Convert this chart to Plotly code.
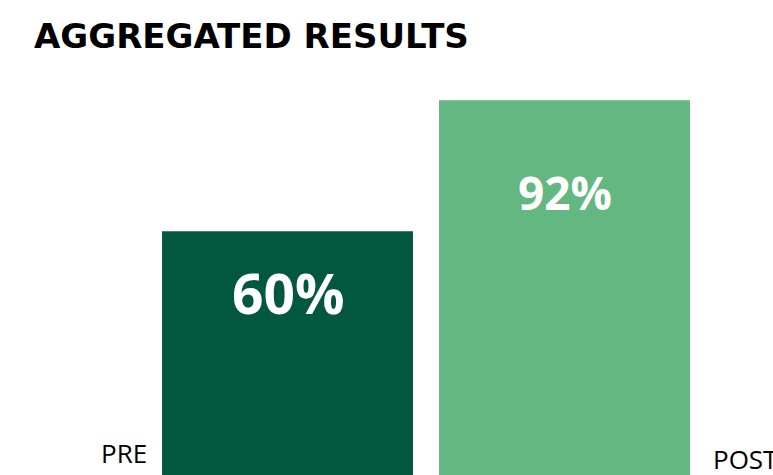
import plotly.graph_objects as go

categories = ["PRE", "POST"]
values = [60, 92]
value_labels = ["60%", "92%"]
bar_colors = ["#02583F", "#63B780"]
label_sizes = [55, 46]
label_offsets = [-61, -92]

fig = go.Figure()
fig.add_trace(go.Bar(
    x=categories, y=values, marker=dict(color=bar_colors, line=dict(width=0)),
    hoverinfo="skip", showlegend=False,
))

for c, v, t, s, o in zip(categories, values, value_labels, label_sizes, label_offsets):
    fig.add_annotation(x=c, y=v, text=t, showarrow=False, yanchor="middle", yshift=o,
                       font=dict(family="Open Sans", size=s, color="white", weight="bold"))

fig.add_annotation(xref="paper", yref="paper", x=0, y=0, xanchor="right", yanchor="bottom",
                   text=categories[0], showarrow=False, xshift=0, yshift=2,
                   font=dict(family="Open Sans", size=26, color="black"))
fig.add_annotation(xref="paper", yref="paper", x=1, y=0, xanchor="left", yanchor="bottom",
                   text=categories[1], showarrow=False, xshift=8, yshift=-4,
                   font=dict(family="Open Sans", size=26, color="black"))

fig.update_layout(
    width=773, height=475,
    margin=dict(l=149, r=70, t=90, b=0),
    paper_bgcolor="white", plot_bgcolor="white",
    bargap=0.094,
    title=dict(text="<b>AGGREGATED RESULTS</b>", xref="container", yref="container",
               x=34/773, xanchor="left", y=1 - 36/475, yanchor="middle",
               font=dict(family="DejaVu Sans", size=34, color="black")),
    xaxis=dict(visible=False),
    yaxis=dict(visible=False, range=[0.4, 94.5]),
)

fig.write_html("out.html")
